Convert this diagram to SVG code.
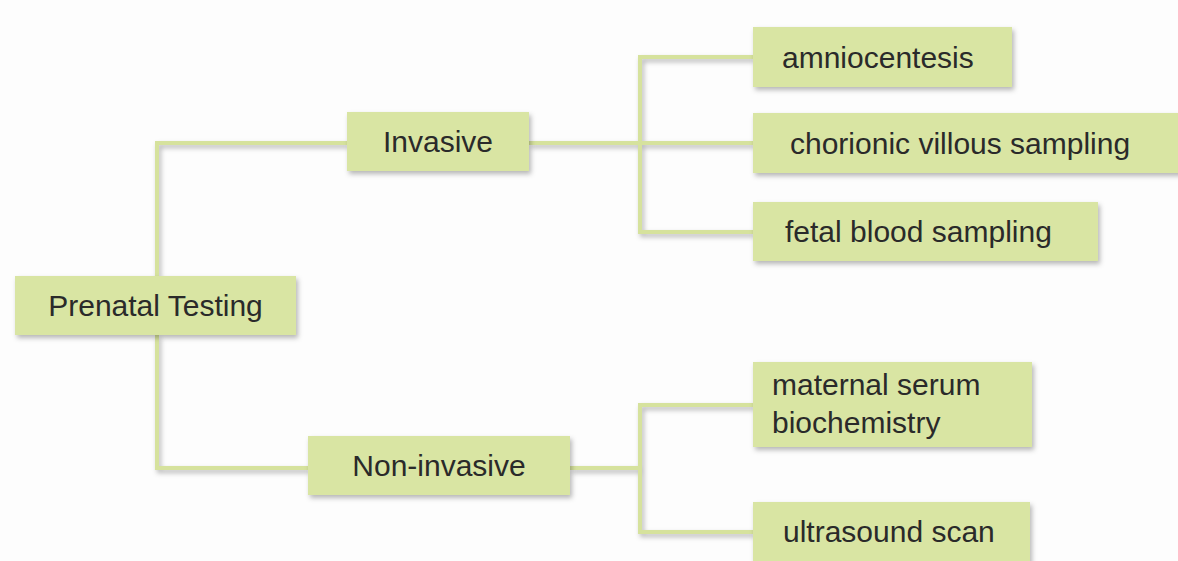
<svg xmlns="http://www.w3.org/2000/svg" width="1178" height="561" viewBox="0 0 1178 561">
<defs>
<filter id="sh" x="-10%" y="-20%" width="130%" height="160%">
<feDropShadow dx="2" dy="3" stdDeviation="2.5" flood-color="#000" flood-opacity="0.28"/>
</filter>
<style>
.box{fill:#d9e5a3;filter:url(#sh)}
.lbl{font-family:"Liberation Sans",Arial,sans-serif;font-size:30px;fill:#2a2a2a}
.c{text-anchor:middle}
.con{fill:none;stroke:#d6e29d;stroke-width:4;filter:url(#sh)}
</style>
</defs>
<rect width="1178" height="561" fill="#fdfdfd"/>
<g id="connectors">
<path class="con" d="M157,276 V143 H347 M157,335 V468 H308"/>
<path class="con" d="M529,143 H753 M753,57 H640 V232 H753"/>
<path class="con" d="M570,468 H640 M753,405 H640 V532 H753"/>
</g>
<g id="prenatal">
<rect class="box" x="15" y="276" width="281" height="59"/>
<text class="lbl c" x="155.5" y="316">Prenatal Testing</text>
</g>
<g id="invasive">
<rect class="box" x="347" y="112" width="182" height="59"/>
<text class="lbl c" x="438" y="152">Invasive</text>
</g>
<g id="noninvasive">
<rect class="box" x="308" y="436" width="262" height="59"/>
<text class="lbl c" x="439" y="476">Non-invasive</text>
</g>
<g id="amniocentesis">
<rect class="box" x="753" y="27" width="259" height="60"/>
<text class="lbl" x="782" y="68">amniocentesis</text>
</g>
<g id="cvs">
<rect class="box" x="753" y="113" width="440" height="60"/>
<text class="lbl" x="790" y="154">chorionic villous sampling</text>
</g>
<g id="fbs">
<rect class="box" x="753" y="202" width="345" height="59"/>
<text class="lbl" x="785" y="242">fetal blood sampling</text>
</g>
<g id="mss">
<rect class="box" x="753" y="362" width="279" height="85"/>
<text class="lbl" x="772" y="395">maternal serum</text>
<text class="lbl" x="772" y="433">biochemistry</text>
</g>
<g id="ultrasound">
<rect class="box" x="753" y="502" width="277" height="70"/>
<text class="lbl" x="783" y="542">ultrasound scan</text>
</g>
</svg>
